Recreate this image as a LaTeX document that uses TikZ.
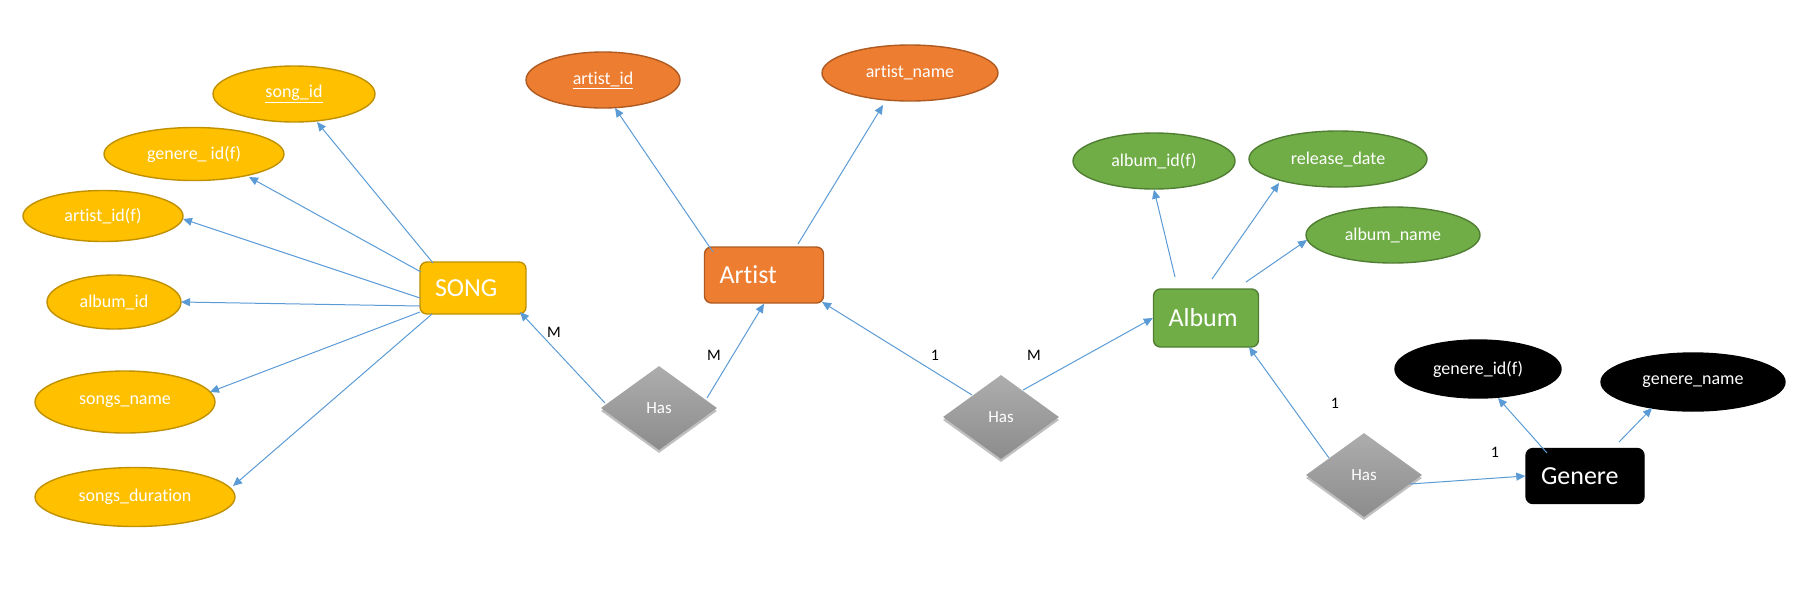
\documentclass[tikz,border=0pt]{standalone}
\usepackage{fontspec}
\setmainfont{Carlito}[Ligatures=NoCommon]
\usetikzlibrary{arrows.meta,shapes.geometric,shadows}
\definecolor{ysong}{HTML}{FFC000}
\definecolor{ysongd}{HTML}{BF9000}
\definecolor{oart}{HTML}{ED7D31}
\definecolor{oartd}{HTML}{AE5A21}
\definecolor{galb}{HTML}{70AD47}
\definecolor{galbd}{HTML}{507E32}
\definecolor{lnk}{HTML}{5B9BD5}
\definecolor{hastop}{HTML}{ADADAD}
\definecolor{hasbot}{HTML}{8C8C8C}
\begin{document}
\begin{tikzpicture}[x=1pt,y=-1pt,
  attr/.style={ellipse, inner sep=0pt, text=white, font=\fontsize{18}{20}\selectfont, line width=1.4pt},
  yattr/.style={attr, fill=ysong, draw=ysongd},
  oattr/.style={attr, fill=oart, draw=oartd},
  gattr/.style={attr, fill=galb, draw=galbd},
  kattr/.style={attr, fill=black, draw=black},
  entity/.style={rectangle, rounded corners=7pt, inner xsep=15pt, inner ysep=0pt, align=left, text=white, font=\fontsize{26}{30}\selectfont, line width=1.4pt},
  rel/.style={diamond, inner sep=0pt, minimum width=116pt, minimum height=84pt, top color=hastop, bottom color=hasbot, text=white, font=\fontsize{17}{19}\selectfont, drop shadow={shadow xshift=0pt, shadow yshift=-3pt, opacity=0.25, fill=black}},
  card/.style={font=\fontsize{16}{18}\selectfont, text=black, inner sep=0pt},
  conn/.style={draw=lnk, line width=1pt, -{Triangle[length=9pt,width=8pt]}}
]
\useasboundingbox (0,0) rectangle (1807,606);

% SONG
\node[entity, fill=ysong, draw=ysongd, text width=76pt, minimum height=52pt] (song) at (473,288) {SONG};
\node[yattr, minimum width=162pt, minimum height=56pt] (sid) at (294,94) {\underline{song\_id}};
\node[yattr, minimum width=180pt, minimum height=53pt] (sgid) at (194,154) {genere\_ id(f)};
\node[yattr, minimum width=160pt, minimum height=51pt] (said) at (103,216) {artist\_id(f)};
\node[yattr, minimum width=134pt, minimum height=54pt] (salb) at (114,302) {album\_id};
\node[yattr, minimum width=180pt, minimum height=62pt] (sname) at (125,402) {songs\_name};
\node[yattr, minimum width=200pt, minimum height=59pt] (sdur) at (135,497) {songs\_duration};

% Artist
\node[entity, fill=oart, draw=oartd, text width=89pt, minimum height=56pt] (artist) at (764,275) {Artist};
\node[oattr, minimum width=154pt, minimum height=56pt] (aid) at (603,80) {\underline{artist\_id}};
\node[oattr, minimum width=176pt, minimum height=56pt] (aname) at (910,73) {artist\_name};

% Album
\node[entity, fill=galb, draw=galbd, text width=75pt, minimum height=58pt] (album) at (1206,318) {Album};
\node[gattr, minimum width=162pt, minimum height=56pt] (alid) at (1154,161) {album\_id(f)};
\node[gattr, minimum width=178pt, minimum height=56pt] (rdate) at (1338,159) {release\_date};
\node[gattr, minimum width=174pt, minimum height=56pt] (alname) at (1393,235) {album\_name};

% Genere
\node[entity, fill=black, draw=black, text width=88pt, minimum height=55pt] (genere) at (1585,476) {Genere};
\node[kattr, minimum width=166pt, minimum height=58pt] (gid) at (1478,369) {genere\_id(f)};
\node[kattr, minimum width=184pt, minimum height=58pt] (gname) at (1693,382) {genere\_name};

% Relationships
\node[rel] (has1) at (659,408) {Has};
\node[rel] (has2) at (1001,417) {Has};
\node[rel] (has3) at (1364,475) {Has};

% Cardinalities
\node[card] (c1) at (554,332) {M};
\node[card] (c2) at (714,355) {M};
\node[card] (c3) at (935,355) {1};
\node[card] (c4) at (1034,355) {M};
\node[card] (c5) at (1335,403) {1};
\node[card] (c6) at (1495,452) {1};

% Connectors: SONG attributes
\draw[conn] ([shift={(-40,-25)}]song.center) -- ([shift={(23,28)}]sid.center);
\draw[conn] ([shift={(-52,-16)}]song.center) -- ([shift={(55,23)}]sgid.center);
\draw[conn] ([shift={(-53,10)}]song.center) -- ([shift={(80,3)}]said.center);
\draw[conn] ([shift={(-53,18)}]song.center) -- ([shift={(67,0)}]salb.center);
\draw[conn] ([shift={(-53,24)}]song.center) -- ([shift={(85,-10)}]sname.center);
\draw[conn] ([shift={(-41,26)}]song.center) -- ([shift={(98,-11)}]sdur.center);

% Has1
\draw[conn] ([shift={(-54,-5)}]has1.center) -- ([shift={(47,24)}]song.center);
\draw[conn] ([shift={(48,-10)}]has1.center) -- (artist.south);

% Artist attributes
\draw[conn] ([shift={(-51,-23)}]artist.center) -- ([shift={(12,28)}]aid.center);
\draw[conn] ([shift={(34,-31)}]artist.center) -- ([shift={(-27,32)}]aname.center);

% Has2
\draw[conn] ([shift={(-29,-22)}]has2.center) -- ([shift={(58,27)}]artist.center);
\draw[conn] ([shift={(22,-27)}]has2.center) -- (album.west);

% Album attributes
\draw[conn] ([shift={(-31,-41)}]album.center) -- (alid.south);
\draw[conn] ([shift={(6,-39)}]album.center) -- ([shift={(-59,24)}]rdate.center);
\draw[conn] ([shift={(40,-36)}]album.center) -- ([shift={(-86,5)}]alname.center);

% Has3
\draw[conn] ([shift={(-35,-17)}]has3.center) -- ([shift={(43,29)}]album.center);
\draw[conn] ([shift={(46,9)}]has3.center) -- (genere.west);

% Genere attributes
\draw[conn] ([shift={(-38,-23)}]genere.center) -- ([shift={(20,29)}]gid.center);
\draw[conn] ([shift={(34,-34)}]genere.center) -- ([shift={(-41,26)}]gname.center);
\end{tikzpicture}
\end{document}
